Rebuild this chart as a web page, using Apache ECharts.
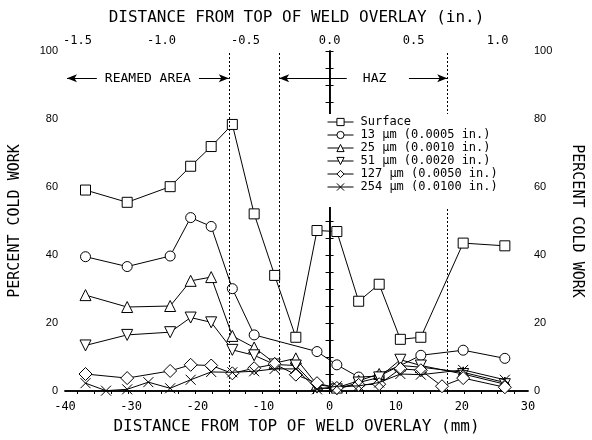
<!DOCTYPE html>
<html>
<head>
<meta charset="utf-8">
<script src="https://cdn.jsdelivr.net/npm/echarts@6/dist/echarts.min.js"></script>
<style>
  html, body { margin: 0; padding: 0; background: #fff; }
  #chart { width: 592px; height: 440px; }
</style>
</head>
<body>
<div id="chart"></div>
<script>
// distance from top of weld overlay (mm) / percent cold work
const surfaceX = [-36.9, -30.6, -24.1, -21.0, -17.9, -14.7, -11.4, -8.3, -5.1, -1.9, 1.1, 4.4, 7.5, 10.7, 13.8, 20.2, 26.5]
const surfaceY = [59.1, 55.5, 60.1, 66.1, 71.9, 78.4, 52.1, 34.0, 15.8, 47.2, 46.9, 26.4, 31.4, 15.2, 15.8, 43.5, 42.7]

const um13X = [-36.9, -30.6, -24.1, -21.0, -17.9, -14.7, -11.4, -1.9, 1.1, 4.4, 7.5, 13.8, 20.2, 26.5]
const um13Y = [39.5, 36.6, 39.7, 51.0, 48.4, 30.1, 16.5, 11.6, 7.7, 4.1, 4.4, 10.5, 12.0, 9.6]

const um25X = [-36.9, -30.6, -24.1, -21.0, -17.9, -14.7, -11.4, -8.3, -5.1, -1.9, 1.1, 4.4, 7.5, 10.7, 13.8, 20.2, 26.5]
const um25Y = [28.2, 24.7, 25.0, 32.4, 33.5, 16.2, 12.8, 8.2, 9.6, 1.9, 1.0, 3.0, 5.0, 7.5, 7.0, 5.5, 2.5]

const um51X = [-36.9, -30.6, -24.1, -21.0, -17.9, -14.7, -11.4, -8.3, -5.1, -1.9, 1.1, 4.4, 7.5, 10.7, 13.8, 20.2, 26.5]
const um51Y = [13.4, 16.5, 17.3, 21.6, 20.2, 12.1, 10.5, 7.8, 7.5, 1.0, 0.5, 2.5, 4.0, 9.2, 7.5, 5.0, 2.0]

const um127X = [-36.9, -30.6, -24.1, -21.0, -17.9, -14.7, -11.4, -8.3, -5.1, -1.9, 1.1, 4.4, 7.5, 10.7, 13.8, 17.0, 20.2, 26.5]
const um127Y = [5.0, 3.8, 5.9, 7.7, 7.5, 5.2, 6.7, 7.9, 4.8, 2.3, 0.9, 1.8, 2.0, 6.5, 6.1, 1.4, 3.8, 1.1]

const um254X = [-36.9, -33.8, -30.6, -27.4, -24.1, -21.0, -17.9, -14.7, -11.4, -8.3, -5.1, -1.9, 1.1, 4.4, 7.5, 10.7, 13.8, 20.2, 26.5]
const um254Y = [2.3, 0.1, 0.5, 2.6, 0.8, 3.3, 5.6, 5.5, 5.8, 6.5, 6.5, 0.5, 1.4, 1.5, 2.5, 5.0, 4.8, 6.2, 3.3]

const seriesNames = ['Surface', '13 µm (0.0005 in.)', '25 µm (0.0010 in.)', '51 µm (0.0020 in.)', '127 µm (0.0050 in.)', '254 µm (0.0100 in.)']

// boundaries in inches: reamed area end, HAZ start, weld top, HAZ end
const boundaryIn = [-0.6, -0.3, 0, 0.7]
const inchTicks = [-1.5, -1.0, -0.5, 0.0, 0.5, 1.0]

const MM = 25.4
const mono = 'DejaVu Sans Mono'

const zip = (xs, ys) => xs.map((x, i) => [x, ys[i]])

const cross = 'path://M0,0L10,10M0,10L10,0'
const styles = [
  { symbol: 'rect', size: 10 },
  { symbol: 'circle', size: 10 },
  { symbol: 'triangle', size: 11 },
  { symbol: 'triangle', size: 11, rotate: 180 },
  { symbol: 'diamond', size: 13 },
  { symbol: cross, size: 10 }
]
const dataSets = [
  zip(surfaceX, surfaceY),
  zip(um13X, um13Y),
  zip(um25X, um25Y),
  zip(um51X, um51Y),
  zip(um127X, um127Y),
  zip(um254X, um254Y)
]

const fillOf = i => (i === 5 ? 'rgba(0,0,0,0)' : '#fff')

const series = dataSets.map((d, i) => ({
  name: seriesNames[i],
  type: 'line',
  data: d,
  symbol: styles[i].symbol,
  symbolSize: styles[i].size,
  symbolRotate: styles[i].rotate || 0,
  showAllSymbol: true,
  itemStyle: { color: fillOf(i), borderColor: '#000', borderWidth: 1 },
  lineStyle: { color: '#000', width: 1 },
  emphasis: { disabled: true },
  z: 3 + i
}))

// boundary lines and zone notes
series.push({
  name: 'notes',
  type: 'line',
  data: [],
  silent: true,
  markLine: {
    silent: true,
    symbol: 'none',
    animation: false,
    label: { show: false },
    data: boundaryIn.map(v => ({
      xAxis: v * MM,
      lineStyle: { color: '#000', width: 1, type: v === 0 ? 'solid' : [2, 2] }
    })).concat([
      [
        { coord: [-39.7, 92], symbol: 'arrow', symbolSize: [6, 10] },
        {
          coord: [-15.24, 92], symbol: 'arrow', symbolSize: [6, 10],
          lineStyle: { color: '#000', width: 1, type: 'solid' },
          label: {
            show: true, position: 'insideMiddle', distance: 0, formatter: 'REAMED AREA',
            fontFamily: mono, fontSize: 13, color: '#000', backgroundColor: '#fff', padding: [0, 8]
          }
        }
      ],
      [
        { coord: [-7.62, 92], symbol: 'arrow', symbolSize: [6, 10] },
        { coord: [2.6, 92], symbol: 'none', lineStyle: { color: '#000', width: 1, type: 'solid' } }
      ],
      [
        { coord: [12.0, 92], symbol: 'none' },
        { coord: [17.78, 92], symbol: 'arrow', symbolSize: [6, 10], lineStyle: { color: '#000', width: 1, type: 'solid' } }
      ]
    ])
  },
  markPoint: {
    silent: true,
    symbol: 'circle',
    symbolSize: 0,
    animation: false,
    label: { show: true, position: 'inside', formatter: 'HAZ', fontFamily: mono, fontSize: 13, color: '#000' },
    data: [{ coord: [6.8, 92] }]
  }
})

const chart = echarts.init(document.getElementById('chart'))
chart.setOption({
  animation: false,
  backgroundColor: '#fff',
  grid: { left: 65, right: 58, top: 51, bottom: 47 },
  legend: {
    data: seriesNames.map((n, i) => ({
      name: n,
      itemStyle: { color: fillOf(i), borderColor: '#000', borderWidth: 1 },
      lineStyle: { color: '#000', width: 1 }
    })),
    orient: 'vertical',
    left: 320,
    top: 114,
    itemWidth: 26,
    itemHeight: 9,
    itemGap: 1,
    padding: [2, 10, 14, 7],
    backgroundColor: '#fff',
    selectedMode: false,
    textStyle: { fontFamily: mono, fontSize: 12, lineHeight: 12, color: '#000', padding: [0, 0, 0, 2] },
    z: 10
  },
  xAxis: [
    {
      type: 'value',
      position: 'bottom',
      min: -40,
      max: 30,
      interval: 10,
      name: 'DISTANCE FROM TOP OF WELD OVERLAY (mm)',
      nameLocation: 'middle',
      nameGap: 28,
      nameTextStyle: { fontFamily: mono, fontSize: 16, color: '#000' },
      axisLine: { lineStyle: { color: '#000', width: 1.5 } },
      axisTick: { show: false },
      splitLine: { show: false },
      axisLabel: { fontFamily: mono, fontSize: 12, color: '#000', margin: 10 }
    },
    {
      type: 'value',
      position: 'top',
      min: -40 / MM,
      max: 30 / MM,
      name: 'DISTANCE FROM TOP OF WELD OVERLAY (in.)',
      nameLocation: 'middle',
      nameGap: 25,
      nameTextStyle: { fontFamily: mono, fontSize: 16, color: '#000' },
      axisLine: { lineStyle: { color: '#000', width: 1.5 } },
      axisTick: {
        inside: true,
        length: 3,
        lineStyle: { color: '#000' },
        customValues: [-1.5, -1.4, -1.3, -1.2, -1.1, -1.0, -0.9, -0.8, -0.7, -0.6, -0.5, -0.4, -0.3, -0.2, -0.1, 0, 0.1, 0.2, 0.3, 0.4, 0.5, 0.6, 0.7, 0.8, 0.9, 1.0, 1.1]
      },
      splitLine: { show: false },
      axisLabel: {
        fontFamily: mono, fontSize: 12, color: '#000', margin: 4,
        customValues: inchTicks,
        formatter: v => v.toFixed(1)
      }
    }
  ],
  yAxis: [
    {
      type: 'value',
      position: 'left',
      min: 0,
      max: 100,
      interval: 20,
      name: 'PERCENT COLD WORK',
      nameLocation: 'middle',
      nameGap: 42,
      nameRotate: 90,
      nameTextStyle: { fontFamily: mono, fontSize: 15, color: '#000' },
      axisLine: { show: true, lineStyle: { color: '#000', width: 1.5 } },
      axisTick: { show: true, inside: true, length: 4, lineStyle: { color: '#000' } },
      minorTick: { show: true, splitNumber: 4, length: 4, lineStyle: { color: '#000' } },
      splitLine: { show: false },
      axisLabel: { fontFamily: 'Liberation Sans', fontSize: 11, color: '#000', margin: 7 }
    },
    {
      type: 'value',
      position: 'right',
      min: 0,
      max: 100,
      interval: 20,
      name: 'PERCENT COLD WORK',
      nameLocation: 'middle',
      nameGap: 41,
      nameRotate: -90,
      nameTextStyle: { fontFamily: mono, fontSize: 15, color: '#000' },
      axisLine: { show: true, lineStyle: { color: '#000', width: 1.5 } },
      axisTick: { show: true, inside: true, length: 4, lineStyle: { color: '#000' } },
      minorTick: { show: true, splitNumber: 4, length: 4, lineStyle: { color: '#000' } },
      splitLine: { show: false },
      axisLabel: { fontFamily: 'Liberation Sans', fontSize: 11, color: '#000', margin: 6 }
    }
  ],
  series: series
})
</script>
</body>
</html>
